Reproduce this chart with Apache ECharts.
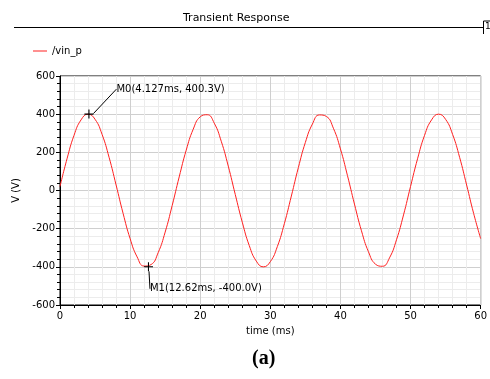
<!DOCTYPE html>
<html>
<head>
<meta charset="utf-8">
<script src="https://cdn.jsdelivr.net/npm/echarts@6/dist/echarts.min.js"></script>
<style>
  html, body { margin: 0; padding: 0; background: #fff; }
  #chart { width: 490px; height: 379px; }
</style>
</head>
<body>
<div id="chart"></div>
<script>
// time (ms) and voltage, 1 ms apart
var times = [];
for (var i = 0; i <= 60; i++) times.push(i);
var volts = [21, 166, 289, 370, 400, 373, 294, 174, 29, -120,
  -252, -348, -396, -388, -326, -218, -79, 71, 211, 321,
  386, 397, 353, 258, 128, -21, -166, -289, -370, -400,
  -373, -294, -174, -29, 120, 252, 348, 396, 388, 326,
  218, 79, -71, -211, -321, -386, -397, -353, -258, -128,
  21, 166, 289, 370, 400, 373, 294, 174, 29, -120, -252];

var markerNames = ['M0', 'M1'];
var markerX = [4.127, 12.62];
var markerY = [400.3, -400.0];
var markerText = ['M0(4.127ms, 400.3V)', 'M1(12.62ms, -400.0V)'];

var font = 'DejaVu Sans';
var chart = echarts.init(document.getElementById('chart'));

var lineData = times.map(function (t, i) { return [t, volts[i]]; });
var markerData = markerX.map(function (x, i) {
  return { name: markerNames[i], value: [x, markerY[i]], label: { formatter: markerText[i] } };
});

var option = {
  animation: false,
  title: {
    text: 'Transient Response',
    left: 178,
    top: 8,
    textStyle: { fontFamily: font, fontSize: 11, fontWeight: 'normal', color: '#000' }
  },
  legend: {
    data: ['/vin_p'],
    left: 28,
    top: 41,
    icon: 'rect',
    itemWidth: 14,
    itemHeight: 1,
    itemGap: 6,
    textStyle: { fontFamily: font, fontSize: 10, color: '#000' }
  },
  grid: {
    left: 60, right: 9, top: 76, bottom: 74,
    show: true, borderColor: '#000', borderWidth: 1
  },
  xAxis: {
    type: 'value',
    min: 0, max: 60, interval: 10,
    name: 'time (ms)',
    nameLocation: 'middle',
    nameGap: 21,
    nameTextStyle: { fontFamily: font, fontSize: 10, color: '#000' },
    axisLine: { show: true, onZero: false, lineStyle: { color: '#000' } },
    axisTick: { show: true, length: 4, lineStyle: { color: '#000' } },
    minorTick: { show: true, splitNumber: 5, length: 3, lineStyle: { color: '#000' } },
    axisLabel: { fontFamily: font, fontSize: 10, color: '#000', margin: 6 },
    splitLine: { show: true, lineStyle: { color: '#cfcfcf' } },
    minorSplitLine: { show: true, lineStyle: { color: '#ececec' } }
  },
  yAxis: {
    type: 'value',
    min: -600, max: 600, interval: 200,
    name: 'V (V)',
    nameLocation: 'middle',
    nameGap: 30,
    nameTextStyle: { fontFamily: font, fontSize: 10, color: '#000' },
    axisLine: { show: true, onZero: false, lineStyle: { color: '#000' } },
    axisTick: { show: true, length: 4, lineStyle: { color: '#000' } },
    minorTick: { show: true, splitNumber: 5, length: 3, lineStyle: { color: '#000' } },
    axisLabel: { fontFamily: font, fontSize: 10, color: '#000', margin: 5 },
    splitLine: { show: true, lineStyle: { color: '#cfcfcf' } },
    minorSplitLine: { show: true, lineStyle: { color: '#ececec' } }
  },
  series: [
    {
      name: '/vin_p',
      type: 'line',
      data: lineData,
      smooth: true,
      showSymbol: false,
      lineStyle: { color: '#ff2020', width: 1 },
      itemStyle: { color: '#ff2020' }
    },
    {
      name: 'markers',
      type: 'scatter',
      data: markerData,
      symbol: 'path://M4.4,0H5.6V10H4.4ZM0,4.4H10V5.6H0Z',
      symbolSize: 9,
      itemStyle: { color: '#000', opacity: 1 },
      label: {
        show: true,
        position: 'right',
        distance: 0,
        fontFamily: font,
        fontSize: 10,
        color: '#000'
      },
      labelLayout: function (p) {
        return p.dataIndex === 0 ? { dx: 23, dy: -25 } : { dx: -3, dy: 22 };
      },
      labelLine: { show: true, lineStyle: { color: '#000', width: 1 } },
      z: 5
    }
  ],
  graphic: [
    { type: 'line', shape: { x1: 14, y1: 27.5, x2: 483, y2: 27.5 }, style: { stroke: '#000', lineWidth: 1 } },
    { type: 'line', shape: { x1: 483.5, y1: 21, x2: 483.5, y2: 34 }, style: { stroke: '#000', lineWidth: 1 } },
    { type: 'line', shape: { x1: 483.5, y1: 21, x2: 490, y2: 21 }, style: { stroke: '#000', lineWidth: 1 } },
    { type: 'text', left: 485, top: 22, style: { text: '1', fontFamily: font, fontSize: 9, fill: '#000' } },
    {
      type: 'text', left: 252, top: 349,
      style: { text: '(a)', fontFamily: 'Liberation Serif', fontSize: 20, fontWeight: 'bold', fill: '#000' }
    }
  ]
};
chart.setOption(option);
</script>
</body>
</html>
